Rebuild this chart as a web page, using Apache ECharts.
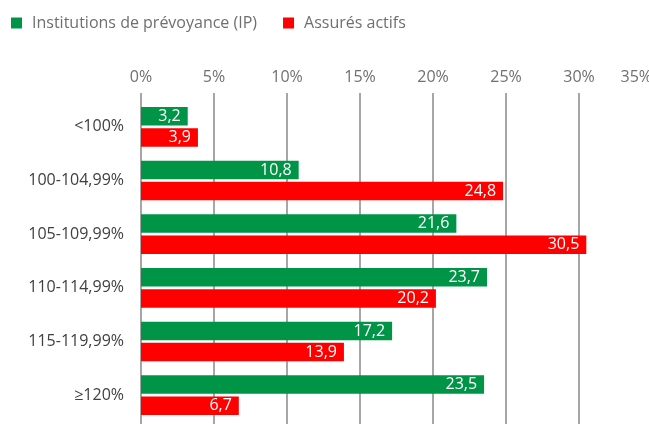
<!DOCTYPE html>
<html><head><meta charset="utf-8">
<script src="https://cdn.jsdelivr.net/npm/echarts@6/dist/echarts.min.js"></script>
<style>html,body{margin:0;padding:0;background:#fff}#c{width:649px;height:424px}</style>
</head><body><div id="c"></div>
<script>
var categories = ['<100%', '100-104,99%', '105-109,99%', '110-114,99%', '115-119,99%', '≥120%'];
var seriesNames = ['Institutions de prévoyance (IP)', 'Assurés actifs'];
var ipValues = [3.2, 10.8, 21.6, 23.7, 17.2, 23.5];
var activeValues = [3.9, 24.8, 30.5, 20.2, 13.9, 6.7];
var colors = ['#009447', '#ff0000'];
var FONT = 'Open Sans';

var chart = echarts.init(document.getElementById('c'));
function lbl(p){ return String(p.value).replace('.', ','); }
var axisCommon = {
  type: 'value', min: 0, max: 35, interval: 5
};
chart.setOption({
  animation: false,
  textStyle: { fontFamily: FONT },
  legend: {
    left: 11, top: 15, padding: 0, itemWidth: 11, itemHeight: 11, itemGap: 26,
    icon: 'rect',
    textStyle: { fontFamily: FONT, fontSize: 16, color: '#6f6f6f', padding: [0,0,0,5] },
    data: seriesNames
  },
  grid: { left: 141, top: 100, right: -3, bottom: 2, containLabel: false, outerBoundsMode: 'none' },
  xAxis: [
    Object.assign({}, axisCommon, {
      position: 'top',
      axisLine: { show: false },
      axisTick: { show: true, length: 7, lineStyle: { color: '#a6a6a6', width: 2 } },
      axisLabel: { fontFamily: FONT, fontSize: 16, color: '#707070', margin: 15,
        formatter: '{value}%', alignMaxLabel: 'right' },
      splitLine: { show: true, lineStyle: { color: '#a6a6a6', width: 2 } }
    }),
    Object.assign({}, axisCommon, {
      position: 'bottom',
      axisLine: { show: false },
      axisTick: { show: true, length: 4, lineStyle: { color: '#a6a6a6', width: 2 } },
      axisLabel: { show: false },
      splitLine: { show: false }
    })
  ],
  yAxis: {
    type: 'category', inverse: true, data: categories,
    axisLine: { show: false }, axisTick: { show: false },
    axisLabel: { fontFamily: FONT, fontSize: 16, color: '#404040', margin: 17 }
  },
  series: [
    { name: seriesNames[0], type: 'bar', data: ipValues, barWidth: 18.5, barGap: '14%',
      itemStyle: { color: colors[0] },
      label: { show: true, position: 'insideRight', distance: 7, color: '#fff',
        fontFamily: FONT, fontSize: 16, formatter: lbl } },
    { name: seriesNames[1], type: 'bar', data: activeValues, barWidth: 18.5, barGap: '14%',
      itemStyle: { color: colors[1] },
      label: { show: true, position: 'insideRight', distance: 7, color: '#fff',
        fontFamily: FONT, fontSize: 16, formatter: lbl } }
  ]
});
</script></body></html>
